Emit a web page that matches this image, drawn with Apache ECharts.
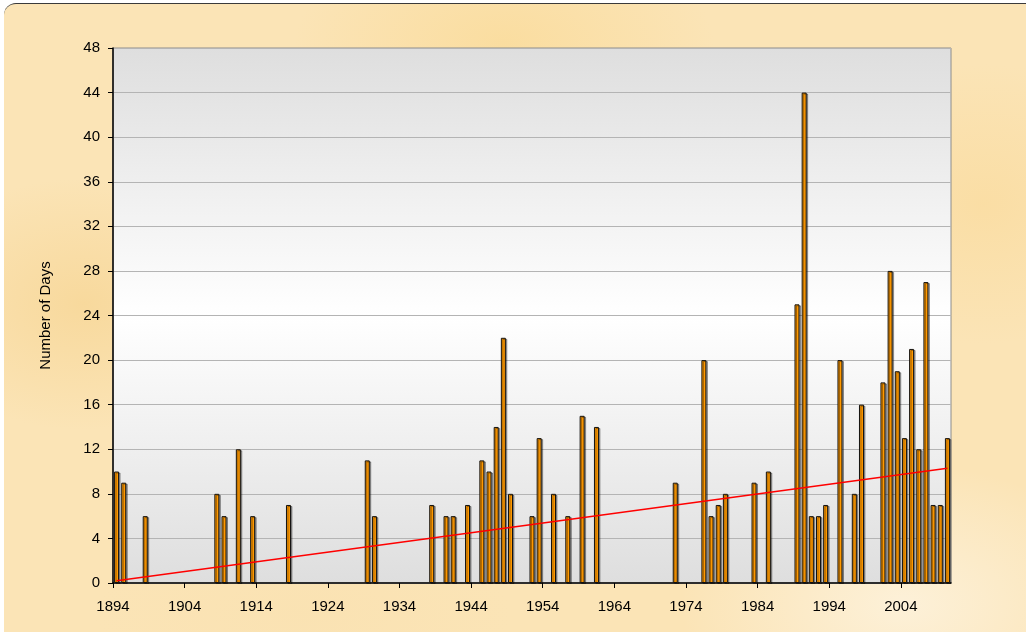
<!DOCTYPE html>
<html>
<head>
<meta charset="utf-8">
<script src="https://cdn.jsdelivr.net/npm/echarts@6/dist/echarts.min.js"></script>
<style>
  html, body { margin: 0; padding: 0; background: #ffffff; }
  .frame {
    position: absolute; left: 4px; top: 3px; width: 1040px; height: 650px;
    border-radius: 12px; border-top: 1.5px solid #3a3a3a;
    background:
      radial-gradient(ellipse 260px 180px at 80px 300px, rgba(247, 214, 150, 0.8), rgba(247, 214, 150, 0) 70%),
      radial-gradient(ellipse 300px 160px at 500px 40px, rgba(250, 218, 150, 0.7), rgba(250, 218, 150, 0) 70%),
      radial-gradient(ellipse 320px 200px at 900px 600px, rgba(253, 242, 220, 0.9), rgba(253, 242, 220, 0) 70%),
      radial-gradient(ellipse 260px 200px at 980px 200px, rgba(250, 220, 160, 0.8), rgba(250, 220, 160, 0) 70%),
      radial-gradient(ellipse 300px 120px at 300px 610px, rgba(250, 226, 178, 0.9), rgba(250, 226, 178, 0) 70%),
      #fbe4b6;
  }
  #chart { position: absolute; left: 0; top: 0; width: 1026px; height: 632px; }
</style>
</head>
<body>
<div class="frame"></div>
<div id="chart"></div>
<script>
// years that had at least one such day, and how many days
const eventYears = [1894, 1895, 1898, 1908, 1909, 1911, 1913, 1918, 1929, 1930,
  1938, 1940, 1941, 1943, 1945, 1946, 1947, 1948, 1949, 1952, 1953, 1955, 1957, 1959, 1961,
  1972, 1976, 1977, 1978, 1979, 1983, 1985, 1989, 1990, 1991, 1992, 1993, 1995, 1997, 1998,
  2001, 2002, 2003, 2004, 2005, 2006, 2007, 2008, 2009, 2010];
const eventDays = [10, 9, 6, 8, 6, 12, 6, 7, 11, 6,
  7, 6, 6, 7, 11, 10, 14, 22, 8, 6, 13, 8, 6, 15, 14,
  9, 20, 6, 7, 8, 9, 10, 25, 44, 6, 6, 7, 20, 8, 16,
  18, 28, 19, 13, 21, 12, 27, 7, 7, 13];

// linear trend at its two ends
const trendYears = [1894, 2010];
const trendDays = [0.2, 10.3];

const firstYear = 1894;
const lastYear = 2010;

// one category per year
const years = [];
for (let y = firstYear; y <= lastYear; y++) years.push(String(y));

const barData = years.map(y => {
  const i = eventYears.indexOf(Number(y));
  return i >= 0 ? eventDays[i] : null;
});
const trendData = trendYears.map((y, i) => [String(y), trendDays[i]]);

const chart = echarts.init(document.getElementById('chart'));
chart.setOption({
  backgroundColor: 'transparent',
  animation: false,
  textStyle: { fontFamily: 'Liberation Sans, Arial, sans-serif' },
  grid: {
    left: 113, top: 48, right: 75, bottom: 49,
    show: true,
    borderColor: '#8c8c8c',
    borderWidth: 1,
    backgroundColor: new echarts.graphic.LinearGradient(0, 0, 0, 1, [
      { offset: 0, color: '#dedede' },
      { offset: 0.5, color: '#ffffff' },
      { offset: 1, color: '#dedede' }
    ])
  },
  xAxis: [
    {
      // visible year scale, ticks on the decade boundaries
      type: 'value',
      min: firstYear,
      max: lastYear + 1,
      interval: 10,
      axisLine: { show: true, onZero: false, lineStyle: { color: '#000', width: 1.5 } },
      axisTick: { show: true, length: 5, lineStyle: { color: '#000' } },
      axisLabel: {
        showMaxLabel: false,
        color: '#000', fontSize: 15, margin: 16,
        formatter: v => String(v)
      },
      splitLine: { show: false }
    },
    {
      type: 'category',
      data: years,
      boundaryGap: true,
      show: false
    }
  ],
  yAxis: {
    type: 'value',
    min: 0,
    max: 48,
    interval: 4,
    name: 'Number of Days',
    nameLocation: 'middle',
    nameGap: 60,
    nameRotate: 90,
    nameTextStyle: { color: '#000', fontSize: 15 },
    axisLine: { show: true, lineStyle: { color: '#000', width: 1.5 } },
    axisTick: { show: true, inside: false, length: 5, lineStyle: { color: '#000' } },
    axisLabel: { color: '#000', fontSize: 15, margin: 13 },
    splitLine: { show: true, lineStyle: { color: '#b4b4b4', width: 1 } }
  },
  series: [
    {
      name: 'Days',
      type: 'bar',
      xAxisIndex: 1,
      data: barData,
      barWidth: 5,
      itemStyle: {
        color: '#ff9900',
        borderColor: '#111',
        borderWidth: 1,
        shadowColor: 'rgba(0,0,0,0.35)',
        shadowOffsetX: 1.5,
        shadowOffsetY: 1,
        shadowBlur: 0
      }
    },
    {
      name: 'Trend',
      type: 'line',
      xAxisIndex: 1,
      data: trendData,
      symbol: 'none',
      lineStyle: { color: '#ff0000', width: 1.5 },
      z: 5
    }
  ]
});
</script>
</body>
</html>
